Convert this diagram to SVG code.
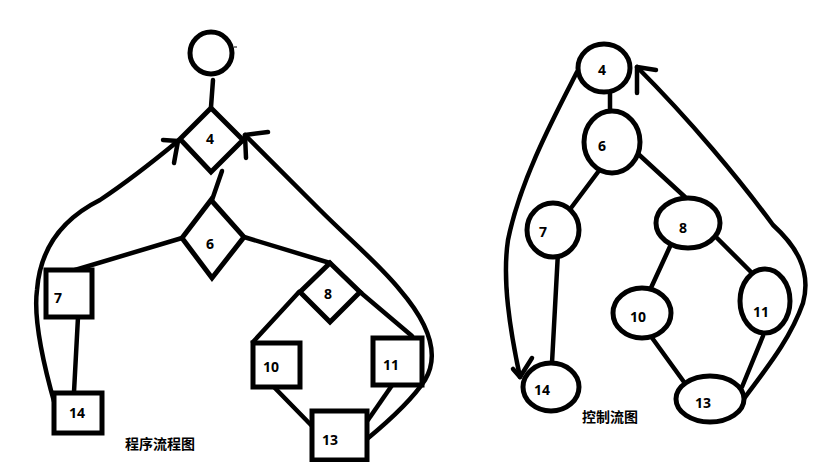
<svg xmlns="http://www.w3.org/2000/svg" width="827" height="462" viewBox="0 0 827 462">
<style>
.s{fill:none;stroke:#000;stroke-width:4.5;stroke-linecap:round;stroke-linejoin:round}
.b{fill:#fff;stroke:#000;stroke-width:5}
.t{font-family:"Noto Sans","DejaVu Sans",sans-serif;font-weight:bold;font-size:14px;fill:#000;text-anchor:middle}
.c{font-family:"Noto Sans CJK SC",sans-serif;font-size:14px;font-weight:bold;fill:#000}
</style>
<rect width="827" height="462" fill="#fff"/>
<g id="connectors">
<line class="s" x1="213" y1="80" x2="211" y2="107"/>
<line class="s" x1="222" y1="171" x2="212" y2="200"/>
<path class="s" d="M55,405 C45,370 33,320 37,290 C40,250 60,220 100,200 C130,180 155,160 178,141"/>
<path class="s" d="M163,140 L178,141 L174,163"/>
<path class="s" d="M367,439 C390,420 412,400 425,380 C440,355 430,325 400,290 C380,265 350,240 320,210 L245,135"/>
<path class="s" d="M268,132 L245,135 L246,158"/>
<line class="s" x1="182" y1="238" x2="75" y2="270"/>
<line class="s" x1="244" y1="237" x2="330" y2="263"/>
<line class="s" x1="78" y1="317" x2="74" y2="392"/>
<line class="s" x1="299" y1="292" x2="253" y2="342"/>
<line class="s" x1="360" y1="292" x2="412" y2="336"/>
<line class="s" x1="270" y1="383" x2="312" y2="426"/>
<line class="s" x1="395" y1="381" x2="368" y2="420"/>
<line class="s" x1="610" y1="90" x2="610" y2="112"/>
<line class="s" x1="598" y1="172" x2="568" y2="212"/>
<line class="s" x1="635" y1="151" x2="685" y2="197"/>
<line class="s" x1="558" y1="252" x2="552" y2="363"/>
<line class="s" x1="673" y1="240" x2="650" y2="290"/>
<line class="s" x1="717" y1="238" x2="752" y2="273"/>
<line class="s" x1="650" y1="335" x2="684" y2="382"/>
<line class="s" x1="763" y1="336" x2="742" y2="387"/>
<path class="s" d="M577,72 C555,115 520,180 508,240 C502,280 510,330 520,377"/>
<path class="s" d="M513,369 L520,377 L532,358"/>
<path class="s" d="M743,400 C765,370 790,340 803,303 C812,270 795,245 773,225 C740,180 690,120 637,67"/>
<path class="s" d="M656,70 L637,67 L637,93"/>
</g>
<g id="start"><circle cx="211" cy="53" r="21" class="b"/><line x1="234" y1="47" x2="237" y2="47" stroke="#000" stroke-width="1"/></g>
<g id="p4"><polygon class="b" points="211,108 243,140 211,172 180,139"/><text class="t" x="210" y="144">4</text></g>
<g id="p6"><polygon class="b" points="211,200 244,237 212,278 182,238"/><text class="t" x="210" y="249">6</text></g>
<g id="p7"><rect class="b" x="46" y="270" width="46" height="47"/><text class="t" x="58" y="303">7</text></g>
<g id="p14"><rect class="b" x="54" y="393" width="48" height="40"/><text class="t" x="77" y="418">14</text></g>
<g id="p8"><polygon class="b" points="330,263 360,292 330,322 300,292"/><text class="t" x="328" y="299">8</text></g>
<g id="p10"><rect class="b" x="253" y="343" width="47" height="44"/><text class="t" x="271" y="372">10</text></g>
<g id="p11"><rect class="b" x="373" y="338" width="49" height="47"/><text class="t" x="391" y="370">11</text></g>
<g id="p13"><rect class="b" x="312" y="411" width="55" height="49"/><text class="t" x="330" y="445">13</text></g>
<text class="c" x="125" y="449">程序流程图</text>
<g id="c4"><ellipse class="b" cx="604" cy="68" rx="26" ry="24"/><text class="t" x="602" y="75">4</text></g>
<g id="c6"><ellipse class="b" cx="612" cy="142" rx="28" ry="31"/><text class="t" x="602" y="151">6</text></g>
<g id="c7"><ellipse class="b" cx="553" cy="230" rx="26" ry="27"/><text class="t" x="543" y="237">7</text></g>
<g id="c8"><ellipse class="b" cx="688" cy="223" rx="32" ry="25"/><text class="t" x="683" y="233">8</text></g>
<g id="c10"><ellipse class="b" cx="642" cy="313" rx="29" ry="25"/><text class="t" x="638" y="322">10</text></g>
<g id="c11"><ellipse class="b" cx="765" cy="301" rx="25" ry="32"/><text class="t" x="761" y="317">11</text></g>
<g id="c13"><ellipse class="b" cx="710" cy="399" rx="34" ry="23"/><text class="t" x="703" y="408">13</text></g>
<g id="c14"><ellipse class="b" cx="551" cy="387" rx="28" ry="24"/><text class="t" x="542" y="395">14</text></g>
<text class="c" x="582" y="422">控制流图</text>
</svg>
